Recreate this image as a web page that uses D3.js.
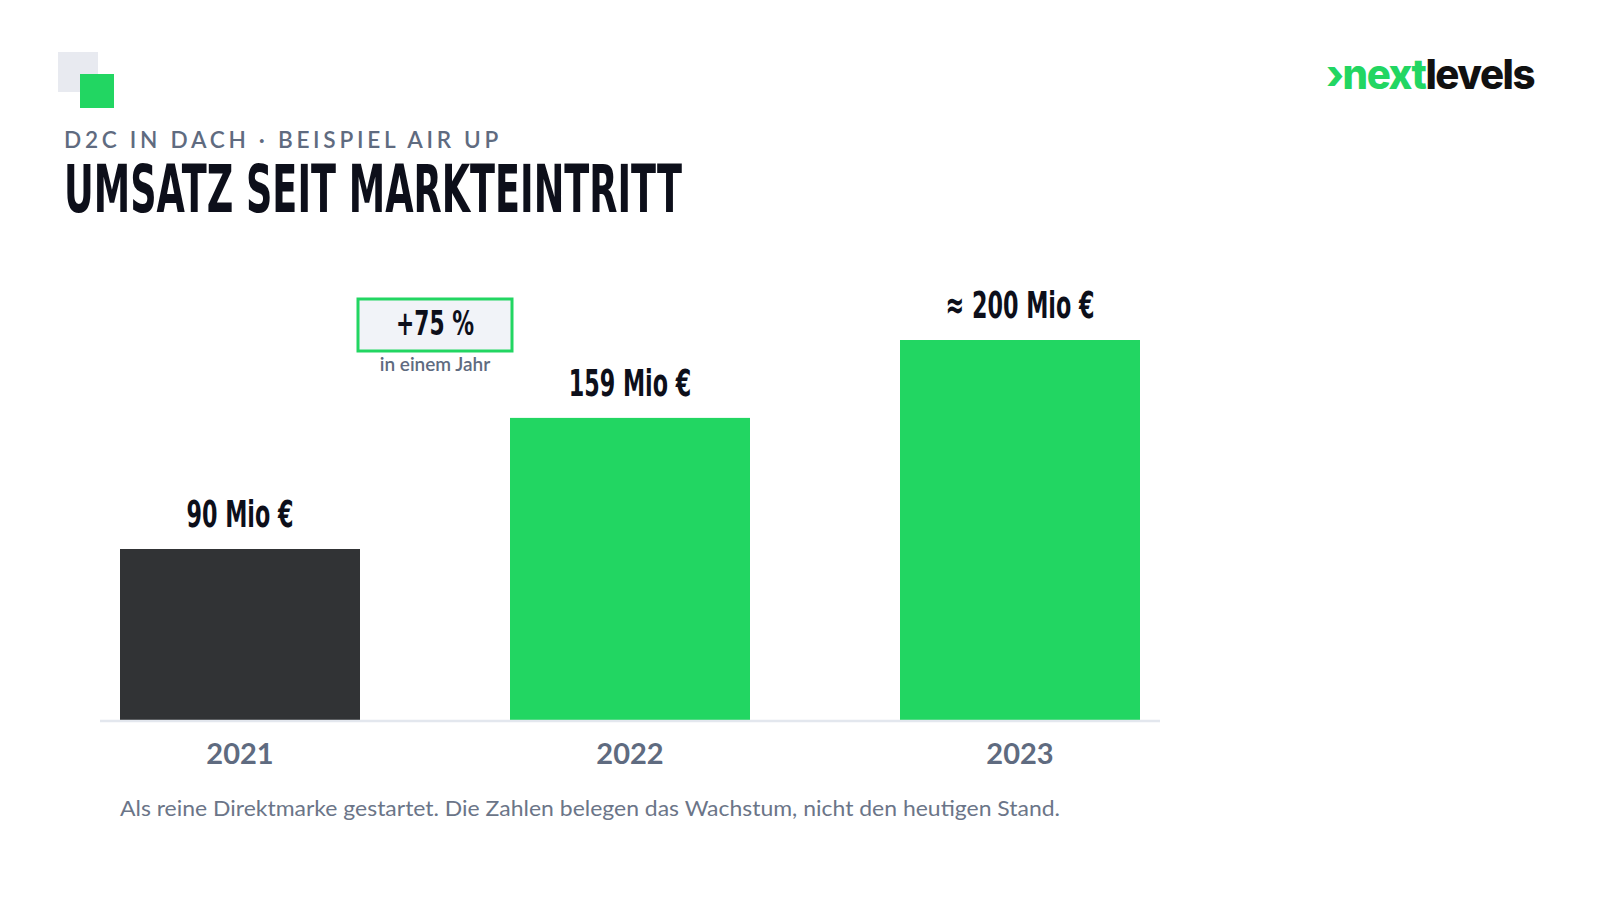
<!DOCTYPE html>
<html>
<head>
<meta charset="utf-8">
<script src="https://cdn.jsdelivr.net/npm/d3@7"></script>
<style>
  html, body { margin: 0; padding: 0; background: #fff; }
  svg { display: block; }
</style>
</head>
<body>
<div id="chart"></div>
<script>
// data
const years = ['2021', '2022', '2023'];
const revenue = [90, 159, 200]; // Mio €
const valueLabels = ['90 Mio €', '159 Mio €', '≈ 200 Mio €'];
const growthLabel = '+75 %';
const growthNote = 'in einem Jahr';

const kicker = 'D2C IN DACH · BEISPIEL AIR UP';
const title = 'UMSATZ SEIT MARKTEINTRITT';
const footnote = 'Als reine Direktmarke gestartet. Die Zahlen belegen das Wachstum, nicht den heutigen Stand.';

const width = 1600,
      height = 900,
      green = '#22d662',
      dark = '#313335',
      ink = '#0d0f1a',
      slate = '#5f6b80',
      condensed = '"Liberation Sans Narrow", "DejaVu Sans Condensed", "Arial Narrow", sans-serif',
      body = 'Lato, "Noto Sans", sans-serif';

const svg = d3.select('#chart').append('svg')
	.attr('width', width)
	.attr('height', height);

// ### decoration squares, top left
svg.append('rect')
	.attr('x', 58).attr('y', 52)
	.attr('width', 40).attr('height', 40)
	.style('fill', '#e8eaf0');
svg.append('rect')
	.attr('x', 80).attr('y', 74)
	.attr('width', 34).attr('height', 34)
	.style('fill', green);

// ### logo
const logo = svg.append('text')
	.attr('x', 1326).attr('y', 89)
	.style('font-family', 'Inter, Lato, sans-serif')
	.style('font-weight', 800)
	.style('font-size', '41px')
	.style('letter-spacing', '-1.5px');
logo.append('tspan').text('›next').style('fill', green);
logo.append('tspan').text('levels').style('fill', '#111');
logo.attr('textLength', 208).attr('lengthAdjust', 'spacingAndGlyphs');

// ### headings
svg.append('text')
	.attr('x', 64).attr('y', 148)
	.text(kicker)
	.style('font-family', body)
	.style('font-weight', 600)
	.style('font-size', '22px')
	.style('letter-spacing', '3.6px')
	.style('fill', slate)
	.attr('textLength', 438)
	.attr('lengthAdjust', 'spacingAndGlyphs');

const titleText = svg.append('text')
	.attr('x', 64).attr('y', 212)
	.text(title)
	.style('font-family', condensed)
	.style('font-weight', 'bold')
	.style('font-size', '65px')
	.style('fill', ink);

// the slide uses a tall condensed face; squeeze ours to the same width
const squeeze = 618 / titleText.node().getComputedTextLength();
titleText.attr('textLength', 618).attr('lengthAdjust', 'spacingAndGlyphs');

function condense(sel, extra){
	sel.each(function(){
		const len = this.getComputedTextLength();
		d3.select(this)
			.attr('textLength', len * squeeze * (extra || 1))
			.attr('lengthAdjust', 'spacingAndGlyphs');
	});
}

// ### scales
const x = d3.scaleBand()
	.domain(years)
	.range([100, 1160])
	.paddingInner(150 / 390)
	.paddingOuter(20 / 390);

const y = d3.scaleLinear()
	.domain([0, 200])
	.range([720, 340]);

const data = years.map((yr, i) => ({year: yr, value: revenue[i], label: valueLabels[i]}));

// bars
svg.append('g').selectAll('rect')
	.data(data)
	.enter().append('rect')
	.attr('x', d => x(d.year))
	.attr('y', d => y(d.value))
	.attr('width', x.bandwidth())
	.attr('height', d => y(0) - y(d.value))
	.style('fill', (d, i) => i == 0 ? dark : green);

// baseline
svg.append('line')
	.attr('x1', x.range()[0]).attr('x2', x.range()[1])
	.attr('y1', y(0) + 1).attr('y2', y(0) + 1)
	.style('stroke', '#e3e7ee')
	.style('stroke-width', 2.5);

// value labels
svg.append('g').selectAll('text')
	.data(data)
	.enter().append('text')
	.attr('x', d => x(d.year) + x.bandwidth() / 2)
	.attr('y', d => y(d.value) - 22)
	.attr('text-anchor', 'middle')
	.text(d => d.label)
	.style('font-family', condensed)
	.style('font-weight', 'bold')
	.style('font-size', '38px')
	.style('fill', ink)
	.call(condense, 1.04);

// x axis labels
svg.append('g').selectAll('text')
	.data(years)
	.enter().append('text')
	.attr('x', d => x(d) + x.bandwidth() / 2)
	.attr('y', 764)
	.attr('text-anchor', 'middle')
	.text(d => d)
	.style('font-family', body)
	.style('font-weight', 700)
	.style('font-size', '29px')
	.style('fill', slate);

// ### growth callout between 2021 and 2022
const cx = (x(years[0]) + x(years[1]) + x.bandwidth()) / 2;
const callout = svg.append('g').attr('transform', `translate(${cx}, 299)`);

callout.append('rect')
	.attr('x', -77).attr('y', 0)
	.attr('width', 154).attr('height', 52)
	.style('fill', '#f1f3f8')
	.style('stroke', green)
	.style('stroke-width', 3);

callout.append('text')
	.attr('y', 36)
	.attr('text-anchor', 'middle')
	.text(growthLabel)
	.style('font-family', condensed)
	.style('font-weight', 'bold')
	.style('font-size', '34px')
	.style('fill', ink)
	.attr('textLength', 78)
	.attr('lengthAdjust', 'spacingAndGlyphs');

callout.append('text')
	.attr('y', 72)
	.attr('text-anchor', 'middle')
	.text(growthNote)
	.style('font-family', body)
	.style('font-weight', 600)
	.style('font-size', '19px')
	.style('fill', slate);

// ### footnote
svg.append('text')
	.attr('x', 120).attr('y', 816)
	.text(footnote)
	.style('font-family', body)
	.style('font-size', '21px')
	.style('fill', '#6b7588')
	.attr('textLength', 940)
	.attr('lengthAdjust', 'spacingAndGlyphs');
</script>
</body>
</html>
